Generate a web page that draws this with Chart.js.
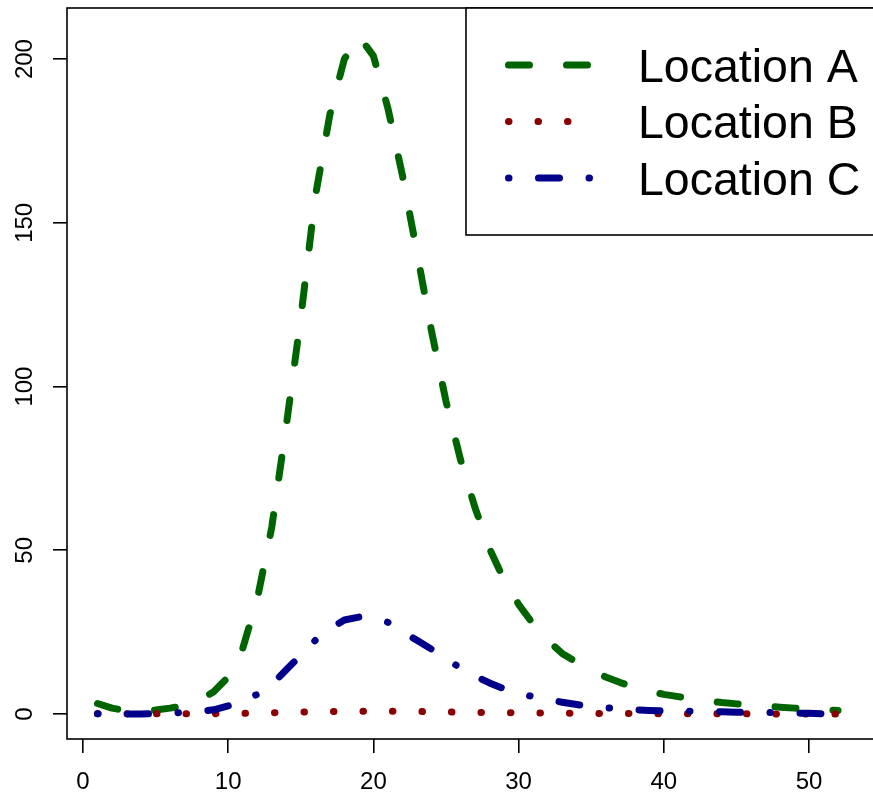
<!DOCTYPE html>
<html>
<head>
<meta charset="utf-8">
<script src="https://cdn.jsdelivr.net/npm/chart.js@4"></script>
<style>
  html, body { margin:0; padding:0; background:#fff; }
  #wrap { width:873px; height:793px; overflow:hidden; }
  canvas { display:block; }
</style>
</head>
<body>
<div id="wrap"><canvas id="c" width="900" height="793"></canvas></div>
<script>
const weeks = [1,2,3,4,5,6,7,8,9,10,11,12,13,14,15,16,17,18,19,20,21,22,23,24,25,26,
               27,28,29,30,31,32,33,34,35,36,37,38,39,40,41,42,43,44,45,46,47,48,49,50,51,52];
const locA = [3.2,1.8,1.0,0.8,1.2,1.8,2.6,4.2,6.8,11.3,20,35,57,88,121,158,183,200,207,201,
              185,164.5,141,117,95.5,77.7,63,50.5,41,33.5,27.5,22.5,18.5,15.8,13.3,11.3,9.6,8.1,7,6,
              5.3,4.6,4,3.5,3.1,2.7,2.4,2.1,1.8,1.5,1.3,1.1];
const locB = [0.05,0.05,0.05,0.05,0.05,0.05,0.05,0.05,0.1,0.15,0.2,0.3,0.4,0.5,0.6,0.7,0.75,0.8,0.85,0.85,
              0.85,0.8,0.75,0.7,0.6,0.55,0.5,0.45,0.4,0.35,0.3,0.27,0.24,0.21,0.18,0.16,0.14,0.12,0.1,0.09,
              0.08,0.07,0.06,0.05,0.05,0.04,0.04,0.03,0.03,0.03,0.02,0.02];
const locC = [0.1,0.05,0,0,0.1,0.3,0.5,0.7,1.3,2.5,4,6,9,13.5,18,22.5,26,28.7,29.6,29.5,
              28,25.2,22.5,19.8,17,14,11.6,9.5,7.7,6.4,5.3,4.4,3.6,2.9,2.3,1.9,1.6,1.3,1.1,0.95,
              0.9,0.85,0.8,0.7,0.55,0.45,0.45,0.45,0.3,0.2,0.1,0.1];
const seriesNames = ['Location A','Location B','Location C'];
const xTicks = [0,10,20,30,40,50];
const yTicks = [0,50,100,150,200];

const DASH = { a:[21,37], b:[0.5,29], c:[0.5,29.5,21,29.5] };
const COLORS = { a:'#006400', b:'#8B0000', c:'#00008B' };
const LW = 7;

Chart.defaults.font.family = '"Liberation Sans", Arial, Helvetica, sans-serif';
Chart.defaults.color = '#000';

const pts = arr => weeks.map((w,i)=>({x:w, y:arr[i]}));

function ds(label, arr, key, order){
  return {
    label, data: pts(arr), order,
    borderColor: COLORS[key], borderWidth: LW, borderDash: DASH[key],
    borderCapStyle:'round', borderJoinStyle:'round',
    pointRadius:0, tension:0, fill:false
  };
}

function noPad(s){ s.paddingTop = 0; s.paddingBottom = 0; s.paddingLeft = 0; s.paddingRight = 0; }

// frame box + legend, drawn on top like base R
const framePlugin = {
  id:'frame',
  afterDatasetsDraw(chart){
    const {ctx, chartArea:a} = chart;
    ctx.save();
    ctx.strokeStyle = '#000';
    ctx.lineWidth = 1.6;
    ctx.setLineDash([]);
    ctx.strokeRect(a.left, a.top, a.right - a.left, a.bottom - a.top);

    // legend box
    ctx.fillStyle = '#fff';
    ctx.fillRect(466, a.top, 500, 227);
    ctx.strokeRect(466, a.top, 500, 227);

    const rows = [65, 121.5, 178];
    chart.data.datasets.forEach((d,i)=>{
      const y = rows[i];
      ctx.beginPath();
      ctx.strokeStyle = d.borderColor;
      ctx.lineWidth = LW;
      ctx.lineCap = 'round';
      ctx.setLineDash(d.borderDash);
      ctx.moveTo(508.5, y);
      ctx.lineTo(589.5, y);
      ctx.stroke();
      ctx.setLineDash([]);
      ctx.fillStyle = '#000';
      ctx.font = '46.5px "Liberation Sans", Arial, sans-serif';
      ctx.textBaseline = 'alphabetic';
      ctx.textAlign = 'left';
      ctx.fillText(d.label, 638, y + 16.7);
    });
    ctx.restore();
  }
};

new Chart(document.getElementById('c'), {
  type:'line',
  data:{ datasets:[
    ds(seriesNames[0], locA, 'a', 2),
    ds(seriesNames[1], locB, 'b', 1),
    ds(seriesNames[2], locC, 'c', 0)
  ]},
  options:{
    responsive:false, animation:false,
    layout:{ padding:{ top:8, right:18.4, left:0, bottom:0 } },
    plugins:{ legend:{display:false}, tooltip:{enabled:false} },
    scales:{
      x:{
        type:'linear', min:-1.1, max:55,
        afterBuildTicks: s => { s.ticks = xTicks.map(v=>({value:v})); },
        afterFit: s => { s.height = 54; noPad(s); },
        grid:{ drawOnChartArea:false, drawTicks:true, tickLength:14, color:'#000', lineWidth:1.6 },
        border:{ display:false },
        ticks:{ font:{size:24}, padding:14.5, maxRotation:0, autoSkip:false, color:'#000' }
      },
      y:{
        type:'linear', min:-7.63, max:215.6,
        afterBuildTicks: s => { s.ticks = yTicks.map(v=>({value:v})); },
        afterFit: s => { s.width = 67; noPad(s); },
        grid:{ drawOnChartArea:false, drawTicks:true, tickLength:14, color:'#000', lineWidth:1.6 },
        border:{ display:false },
        ticks:{ font:{size:24}, padding:7.7, minRotation:90, maxRotation:90, crossAlign:'center', autoSkip:false, color:'#000' }
      }
    }
  },
  plugins:[framePlugin]
});
</script>
</body>
</html>
